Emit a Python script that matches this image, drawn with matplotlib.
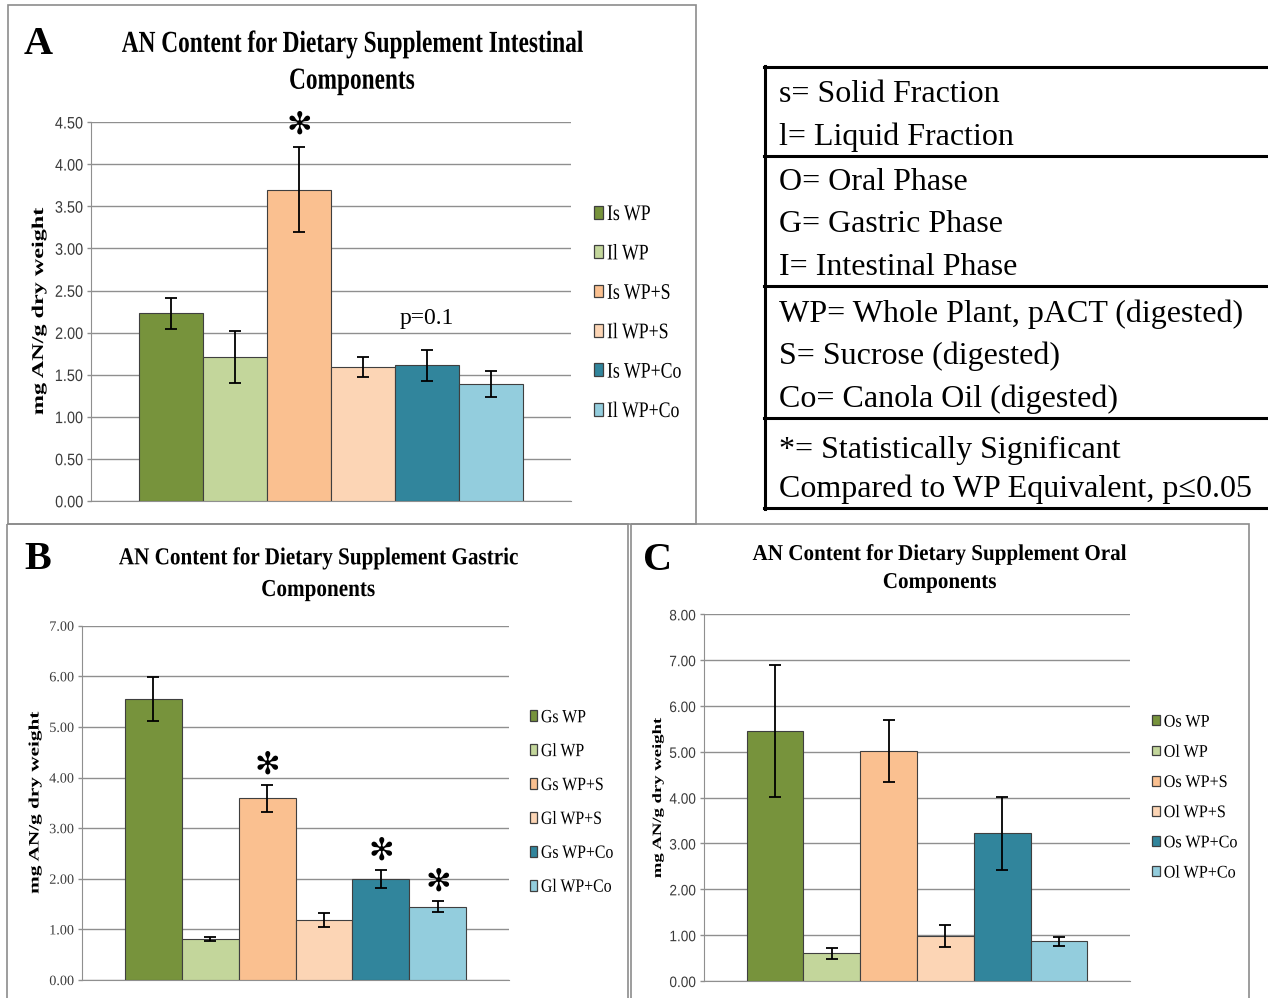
import matplotlib
matplotlib.use('Agg')
import matplotlib.pyplot as plt
import matplotlib.patheffects as pe
from matplotlib.transforms import Affine2D
from matplotlib.lines import Line2D
from matplotlib.patches import Rectangle
from matplotlib.ticker import FormatStrFormatter

# ---------------- data ----------------
colors = ['#77933C', '#C3D69B', '#FAC090', '#FCD5B5', '#31859C', '#93CDDD']

int_labels = ['Is WP', 'Il WP', 'Is WP+S', 'Il WP+S', 'Is WP+Co', 'Il WP+Co']
int_values = [2.23, 1.71, 3.70, 1.59, 1.61, 1.39]
int_errors = [0.185, 0.31, 0.50, 0.115, 0.185, 0.15]
int_stars = [2]

gas_labels = ['Gs WP', 'Gl WP', 'Gs WP+S', 'Gl WP+S', 'Gs WP+Co', 'Gl WP+Co']
gas_values = [5.55, 0.81, 3.59, 1.19, 2.00, 1.45]
gas_errors = [0.43, 0.035, 0.27, 0.14, 0.18, 0.115]
gas_stars = [2, 4, 5]

oral_labels = ['Os WP', 'Ol WP', 'Os WP+S', 'Ol WP+S', 'Os WP+Co', 'Ol WP+Co']
oral_values = [5.46, 0.60, 5.02, 0.98, 3.22, 0.87]
oral_errors = [1.44, 0.12, 0.67, 0.24, 0.80, 0.10]

table_lines = ["s= Solid Fraction", "l= Liquid Fraction",
               "O= Oral Phase", "G= Gastric Phase", "I= Intestinal Phase",
               "WP= Whole Plant, pACT (digested)", "S= Sucrose (digested)",
               "Co= Canola Oil (digested)",
               "*= Statistically Significant",
               "Compared to WP Equivalent, p\u22640.05"]

# ---------------- helpers ----------------
W, H = 1268, 998
fig = plt.figure(figsize=(W / 100, H / 100), dpi=100)
fig.patch.set_facecolor('white')

SERIF = ['Liberation Serif', 'DejaVu Serif']
SANS = ['Liberation Sans', 'DejaVu Sans']


class LocalScale(pe.AbstractPathEffect):
    """Scale glyph outlines in the text's own frame (narrow / tall type look).
    px: 'center' or 'left' pivot along the text; py: pivot height in glyph units
    (em = 100, baseline = 0)."""
    def __init__(self, sx=1.0, sy=1.0, px='left', py=0.0):
        super().__init__()
        self.sx, self.sy, self.px, self.py = sx, sy, px, py

    def draw_path(self, renderer, gc, tpath, affine, rgbFace=None):
        if self.px == 'center':
            ext = tpath.get_extents()
            cx = 0.5 * (ext.x0 + ext.x1)
        else:
            cx = 0.0
        t = (Affine2D().translate(-cx, -self.py).scale(self.sx, self.sy)
             .translate(cx, self.py) + affine)
        renderer.draw_path(gc, tpath, t, rgbFace)


def rect(x0, y0, x1, y1):
    return [x0 / W, 1 - y1 / H, (x1 - x0) / W, (y1 - y0) / H]


# background axes in pixel coordinates
bg = fig.add_axes([0, 0, 1, 1])
bg.set_xlim(0, W)
bg.set_ylim(H, 0)
bg.axis('off')
bg.set_zorder(-5)

border_c = '#8c8c8c'
for (x0, y0, x1, y1) in [(8, 5, 696, 524), (7, 524, 628, 1010), (631, 524, 1249, 1010)]:
    bg.add_patch(Rectangle((x0, y0), x1 - x0, y1 - y0, fill=False,
                           edgecolor=border_c, lw=1.2))

# legend table
for y in [67, 155.5, 286, 418, 507.5]:
    bg.add_line(Line2D([764, 1268], [y, y], color='black', lw=2.2))
bg.add_line(Line2D([765, 765], [66, 509], color='black', lw=2.2))
baselines = [101.7, 145, 190, 231.7, 275, 321.7, 364, 406.7, 458.3, 496.7]
for s, yb in zip(table_lines, baselines):
    bg.text(779, yb, s, fontsize=23, family=SERIF, ha='left', va='baseline')

renderer = fig.canvas.get_renderer()


def make_panel(letter, letter_xy, box, ymax, ystep, labels, values, errors, stars,
               title1, title_cx, title_base, title_fs, title_w,
               ylab_fs, ylab_x, ylab_target,
               tick_fs, tick_family, tick_sy,
               leg_xy, leg_fs, leg_sy, leg_spacing, leg_hl, leg_hh,
               star_y=None):
    ax = fig.add_axes(rect(*box))
    ax.set_facecolor('none')
    x = list(range(len(values)))
    bars = ax.bar(x, values, width=1.0, color=colors, edgecolor='#3f3f3f',
                  linewidth=0.8, zorder=3,
                  yerr=errors, error_kw=dict(ecolor='black', elinewidth=1.3,
                                             capsize=4.5, capthick=1.3, zorder=4))
    ax.set_xlim(-1.25, len(values) - 1 + 1.25)
    ax.set_ylim(0, ymax)
    n = int(round(ymax / ystep))
    ax.set_yticks([i * ystep for i in range(n + 1)])
    ax.yaxis.set_major_formatter(FormatStrFormatter('%.2f'))
    ax.set_xticks([])
    ax.grid(axis='y', color='#8f8f8f', lw=1.0, zorder=0)
    for sp in ['top', 'right']:
        ax.spines[sp].set_visible(False)
    ax.spines['left'].set_color('#8f8f8f')
    ax.spines['bottom'].set_color('#8f8f8f')
    ax.tick_params(axis='y', length=3, width=1.0, color='#8f8f8f',
                   labelsize=tick_fs, labelcolor='#3a3a3a', pad=3)
    for t in ax.get_yticklabels():
        t.set_family(tick_family)
        t.set_path_effects([LocalScale(1.0, tick_sy, 'left', 36)])

    # ylabel
    yl = ax.set_ylabel('mg AN/g dry weight', fontsize=ylab_fs, family=SERIF,
                       fontweight='bold')
    ax.yaxis.set_label_coords((ylab_x - box[0]) / (box[2] - box[0]), 0.5)
    yl.set_verticalalignment('center')

    # significance marks
    for i, yy in zip(stars, star_y or []):
        ax.text(i, yy, '\u273B', ha='center', va='center', fontsize=22,
                family=['DejaVu Sans'], fontweight='bold', zorder=6)

    # title
    t1 = bg.text(title_cx, title_base[0], title1, fontsize=title_fs, family=SERIF,
                 fontweight='bold', ha='center', va='baseline')
    t2 = bg.text(title_cx, title_base[1], 'Components', fontsize=title_fs, family=SERIF,
                 fontweight='bold', ha='center', va='baseline')
    # panel letter
    bg.text(letter_xy[0], letter_xy[1], letter, fontsize=29, family=SERIF,
            fontweight='bold', ha='left', va='baseline')

    # legend
    leg = ax.legend(bars.patches, labels, loc='center left',
                    bbox_to_anchor=(leg_xy[0] / W, 1 - leg_xy[1] / H),
                    bbox_transform=fig.transFigure, frameon=False,
                    borderpad=0, borderaxespad=0, handlelength=leg_hl,
                    handleheight=leg_hh, handletextpad=0.25,
                    labelspacing=leg_spacing,
                    prop=dict(family=SERIF, size=leg_fs))
    for p in leg.get_patches():
        p.set_edgecolor('#3f3f3f')
        p.set_linewidth(0.9)
    for t in leg.get_texts():
        t.set_path_effects([LocalScale(1.0, leg_sy, 'left', 34)])

    fig.canvas.draw()
    # narrow title type: shrink size to the measured width, stretch height back
    w1 = t1.get_window_extent(renderer).width
    fs_new = title_fs * title_w / w1
    for t in (t1, t2):
        t.set_fontsize(fs_new)
        t.set_path_effects([LocalScale(1.0, title_fs / fs_new, 'left', 0)])
    # ylabel: thin strokes, long text
    h = yl.get_window_extent(renderer).height
    fs_len = ylab_fs * ylab_target / h
    fs_thick = fs_len * 0.68
    yl.set_fontsize(fs_thick)
    yl.set_path_effects([LocalScale(fs_len / fs_thick, 1.0, 'center', 0)])
    return ax


axA = make_panel('A', (24, 53.6), (91, 122.2, 571, 501), 4.5, 0.5,
                 int_labels, int_values, int_errors, int_stars,
                 'AN Content for Dietary Supplement Intestinal', 351.6, (51.9, 88.7), 22, 462,
                 17, 39, 208,
                 10.4, SANS, 1.15,
                 (594, 312.5), 12.8, 1.25, 1.26, 0.48, 0.73,
                 star_y=[4.47])
axA.text(4, 2.10, 'p=0.1', fontsize=17, family=SERIF, ha='center', va='baseline')

axB = make_panel('B', (24, 569), (82, 625.7, 509, 980), 7.0, 1.0,
                 gas_labels, gas_values, gas_errors, gas_stars,
                 'AN Content for Dietary Supplement Gastric', 318, (564.3, 596), 17.5, 399,
                 15, 35, 183,
                 10.2, SERIF, 1.0,
                 (530, 802), 11.4, 1.18, 1.13, 0.44, 0.7,
                 star_y=[4.25, 2.54, 1.94])

axC = make_panel('C', (643, 570), (704, 614.3, 1130, 981), 8.0, 1.0,
                 oral_labels, oral_values, oral_errors, [],
                 'AN Content for Dietary Supplement Oral', 939.6, (560, 588), 16.3, 374,
                 13, 658, 160,
                 9.8, SANS, 1.11,
                 (1152, 797.5), 11.6, 1.1, 0.88, 0.48, 0.56)

fig.savefig('out.png', dpi=100, facecolor='white')
